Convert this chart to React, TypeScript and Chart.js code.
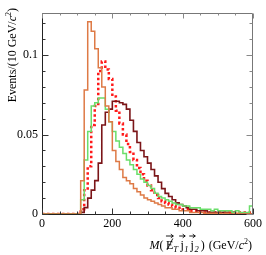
import { useEffect, useRef } from 'react';
import { Chart, registerables } from 'chart.js';

Chart.register(...registerables);

// 60 bins of 10 GeV/c^2 from 0 to 600
const BIN_WIDTH = 10;
const BIN_COUNT = 60;

const orange = [
  0, 0, 0, 0, 0, 0, 0, 0, 0, 0,
  0, 0.021, 0.078, 0.121, 0.115, 0.104, 0.092, 0.080, 0.068, 0.058,
  0.040, 0.033, 0.028, 0.023, 0.021, 0.019, 0.016, 0.014, 0.012, 0.010,
  0.009, 0.008, 0.007, 0.006, 0.005, 0.004, 0.004, 0.003, 0.003, 0.002,
  0.002, 0.002, 0.001, 0.001, 0.001, 0.001, 0.0005, 0.0005, 0.0005, 0.0005,
  0.0005, 0, 0.0005, 0, 0, 0.0005, 0, 0, 0, 0,
];

const green = [
  0, 0, 0, 0, 0, 0, 0, 0, 0, 0,
  0, 0.009, 0.034, 0.052, 0.068, 0.070, 0.073, 0.073, 0.066, 0.058,
  0.052, 0.046, 0.042, 0.038, 0.034, 0.031, 0.028, 0.025, 0.022, 0.020,
  0.018, 0.016, 0.013, 0.011, 0.010, 0.009, 0.008, 0.007, 0.006, 0.006,
  0.005, 0.005, 0.004, 0.004, 0.004, 0.003, 0.003, 0.003, 0.002, 0.003,
  0.002, 0.002, 0.002, 0.002, 0.001, 0.002, 0.001, 0.001, 0.001, 0.005,
];

const redDotted = [
  0, 0, 0, 0, 0, 0, 0, 0, 0, 0,
  0, 0.003, 0.015, 0.030, 0.056, 0.068, 0.090, 0.096, 0.091, 0.085,
  0.074, 0.065, 0.057, 0.050, 0.044, 0.039, 0.034, 0.029, 0.025, 0.021,
  0.018, 0.015, 0.012, 0.010, 0.008, 0.007, 0.006, 0.005, 0.004, 0.004,
  0.003, 0.003, 0.002, 0.002, 0.002, 0.001, 0.001, 0.001, 0.001, 0.001,
  0.001, 0.001, 0.001, 0.001, 0.001, 0.001, 0.001, 0.001, 0.001, 0.001,
];

const darkRed = [
  0, 0, 0, 0, 0, 0, 0, 0, 0, 0,
  0, 0.001, 0.004, 0.010, 0.015, 0.021, 0.032, 0.056, 0.064, 0.066,
  0.071, 0.071, 0.070, 0.069, 0.066, 0.059, 0.052, 0.045, 0.040, 0.036,
  0.032, 0.028, 0.024, 0.020, 0.016, 0.013, 0.011, 0.009, 0.007, 0.006,
  0.005, 0.004, 0.003, 0.003, 0.002, 0.002, 0.002, 0.001, 0.001, 0.001,
  0.001, 0.001, 0.001, 0, 0.001, 0, 0, 0, 0, 0,
];

const X_MAJOR_TICKS = [0, 200, 400, 600];
const X_MINOR_TICKS = [50, 100, 150, 250, 300, 350, 450, 500, 550];
const Y_MAJOR_TICKS = [0, 0.05, 0.1];
const Y_MINOR_TICKS = [0.01, 0.02, 0.03, 0.04, 0.06, 0.07, 0.08, 0.09, 0.11, 0.12];
const Y_TICK_LABELS: Record<string, string> = { '0': '0', '0.05': '0.05', '0.1': '0.1' };

const SERIF = '"Liberation Serif", "Times New Roman", serif';

function toPoints(values: number[]) {
  const pts: { x: number; y: number }[] = [];
  for (let i = 0; i <= BIN_COUNT; i++) {
    pts.push({ x: i * BIN_WIDTH, y: values[Math.min(i, BIN_COUNT - 1)] });
  }
  return pts;
}

function drawArrow(ctx: CanvasRenderingContext2D, x0: number, x1: number, y: number) {
  ctx.beginPath();
  ctx.moveTo(x0, y);
  ctx.lineTo(x1, y);
  ctx.moveTo(x1 - 2.5, y - 1.8);
  ctx.lineTo(x1, y);
  ctx.lineTo(x1 - 2.5, y + 1.8);
  ctx.stroke();
}

const framePlugin = {
  id: 'rootFrame',
  afterDraw(chart: any) {
    const ctx: CanvasRenderingContext2D = chart.ctx;
    const xs = chart.scales.x;
    const ys = chart.scales.y;
    const { left, right, top, bottom } = chart.chartArea;
    const L = Math.round(left) + 0.5;
    const R = Math.round(right) - 0.5;
    const T = Math.round(top) + 0.5;
    const B = Math.round(bottom) + 0.5;
    ctx.save();
    ctx.lineWidth = 1;
    // frame
    ctx.strokeStyle = '#777';
    ctx.beginPath();
    ctx.moveTo(L, T);
    ctx.lineTo(R, T);
    ctx.lineTo(R, B);
    ctx.stroke();
    ctx.strokeStyle = '#222';
    ctx.beginPath();
    ctx.moveTo(L, T);
    ctx.lineTo(L, B);
    ctx.lineTo(R, B);
    ctx.stroke();
    // x ticks (bottom & top, inward)
    const xt = (v: number, len: number) => {
      const px = Math.round(xs.getPixelForValue(v)) + 0.5;
      ctx.strokeStyle = '#333';
      ctx.beginPath();
      ctx.moveTo(px, B);
      ctx.lineTo(px, B - len);
      ctx.stroke();
      ctx.strokeStyle = '#888';
      ctx.beginPath();
      ctx.moveTo(px, T);
      ctx.lineTo(px, T + len - 1);
      ctx.stroke();
    };
    X_MAJOR_TICKS.forEach((v) => xt(v, 6));
    X_MINOR_TICKS.forEach((v) => xt(v, 3));
    const yt = (v: number, len: number) => {
      const py = Math.round(ys.getPixelForValue(v)) + 0.5;
      ctx.strokeStyle = '#333';
      ctx.beginPath();
      ctx.moveTo(L, py);
      ctx.lineTo(L + len, py);
      ctx.stroke();
      ctx.strokeStyle = '#888';
      ctx.beginPath();
      ctx.moveTo(R, py);
      ctx.lineTo(R - len, py);
      ctx.stroke();
    };
    Y_MAJOR_TICKS.forEach((v) => yt(v, 6));
    Y_MINOR_TICKS.forEach((v) => yt(v, 3));

    // y title (rotated, right aligned at top)
    ctx.fillStyle = '#000';
    ctx.textBaseline = 'alphabetic';
    ctx.textAlign = 'left';
    ctx.save();
    ctx.translate(16, 8);
    ctx.rotate(-Math.PI / 2);
    const ySegs: [string, string, number][] = [
      ['Events/(10 GeV/', `12px ${SERIF}`, 0],
      ['c', `italic 12px ${SERIF}`, 0],
      ['2', `8px ${SERIF}`, -5],
      [')', `12px ${SERIF}`, 0],
    ];
    let total = 0;
    ySegs.forEach(([t, f]) => { ctx.font = f; total += ctx.measureText(t).width; });
    let cx = -total;
    ySegs.forEach(([t, f, dy]) => { ctx.font = f; ctx.fillText(t, cx, dy); cx += ctx.measureText(t).width; });
    ctx.restore();

    // x title
    const base = 248.5;
    const reg = `12px ${SERIF}`;
    const ital = `italic 12px ${SERIF}`;
    const sub = `italic 8.5px ${SERIF}`;
    type Item = { t: string; f: string; dy: number; arrow?: boolean; slash?: boolean; gap?: number };
    const items: Item[] = [
      { t: 'M', f: ital, dy: 0 },
      { t: '(', f: reg, dy: 0, gap: 2.5 },
      { t: 'E', f: reg, dy: 0, arrow: true, slash: true },
      { t: 'T', f: sub, dy: 3, gap: 2.5 },
      { t: 'j', f: reg, dy: 0, arrow: true, gap: 0.5 },
      { t: '1', f: sub, dy: 3.5, gap: 2 },
      { t: 'j', f: reg, dy: 0, arrow: true, gap: 0.5 },
      { t: '2', f: sub, dy: 3.5, gap: 2 },
      { t: ')', f: reg, dy: 0, gap: 4 },
      { t: '(GeV/', f: reg, dy: 0 },
      { t: 'c', f: ital, dy: 0 },
      { t: '2', f: `8px ${SERIF}`, dy: -5 },
      { t: ')', f: reg, dy: 0 },
    ];
    let w = 0;
    items.forEach((it) => { ctx.font = it.f; w += ctx.measureText(it.t).width + (it.gap || 0); });
    let x = 252 - w;
    ctx.strokeStyle = '#000';
    ctx.lineWidth = 0.9;
    items.forEach((it) => {
      ctx.font = it.f;
      const tw = ctx.measureText(it.t).width;
      ctx.fillText(it.t, x, base + it.dy);
      if (it.arrow) {
        const aw = Math.max(tw, 6);
        drawArrow(ctx, x - (aw - tw) / 2, x + (aw + tw) / 2, base - 12.5);
      }
      if (it.slash) {
        ctx.beginPath();
        ctx.moveTo(x + 1, base + 1.5);
        ctx.lineTo(x + tw - 0.5, base - 10);
        ctx.stroke();
      }
      x += tw + (it.gap || 0);
    });
    ctx.restore();
  },
};

export default function App() {
  const ref = useRef<HTMLCanvasElement | null>(null);
  useEffect(() => {
    if (!ref.current) return;
    const ds = (label: string, values: number[], color: string, width: number, dash: number[] = []) => ({
      label,
      data: toPoints(values),
      borderColor: color,
      borderWidth: width,
      borderDash: dash,
      borderCapStyle: 'butt' as const,
      stepped: 'before' as const,
      pointRadius: 0,
      fill: false,
      tension: 0,
    });
    const chart = new Chart(ref.current, {
      type: 'line',
      data: {
        datasets: [
          ds('orange', orange, '#de7a46', 1.5),
          ds('green', green, '#6ade6a', 1.5),
          ds('darkred', darkRed, '#7b1518', 1.6),
          ds('red', redDotted, '#ff1a1a', 2.5, [2.5, 2.5]),
        ],
      },
      options: {
        animation: false,
        responsive: false,
        devicePixelRatio: 1,
        layout: { padding: { top: 13, right: 13, left: 0, bottom: 0 } },
        plugins: { legend: { display: false }, tooltip: { enabled: false } },
        scales: {
          x: {
            type: 'linear',
            min: 0,
            max: 600,
            grid: { display: false, drawTicks: false },
            border: { display: false },
            ticks: {
              stepSize: 200,
              padding: 3,
              color: '#000',
              font: { family: SERIF, size: 12 },
              maxRotation: 0,
              autoSkip: false,
              includeBounds: false,
            },
            afterFit: (s: any) => { s.height = 41; },
          },
          y: {
            type: 'linear',
            min: 0,
            max: 0.1265,
            grid: { display: false, drawTicks: false },
            border: { display: false },
            ticks: {
              stepSize: 0.05,
              padding: 4,
              color: '#000',
              font: { family: SERIF, size: 12 },
              autoSkip: false,
              includeBounds: false,
              callback: (v: any) => {
                const k = String(Math.round(Number(v) * 100) / 100);
                return Y_TICK_LABELS[k] ?? '';
              },
            },
            afterFit: (s: any) => { s.width = 42; },
          },
        },
      },
      plugins: [framePlugin],
    });
    return () => chart.destroy();
  }, []);
  return (
    <div style={{ position: 'absolute', left: 0, top: 0, width: 266, height: 255, background: '#fff' }}>
      <canvas ref={ref} width={266} height={255} style={{ display: 'block', width: 266, height: 255 }} />
    </div>
  );
}
